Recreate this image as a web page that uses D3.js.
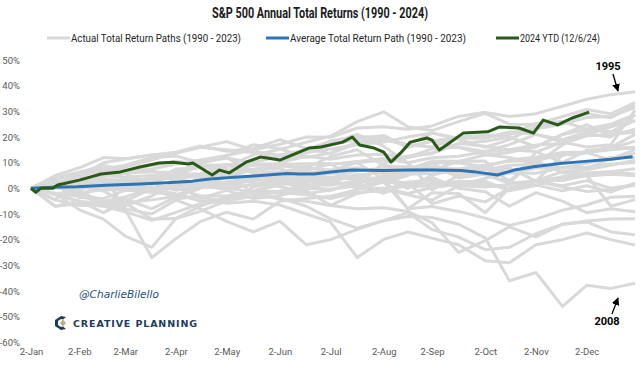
<!DOCTYPE html>
<html><head><meta charset="utf-8">
<script src="https://cdn.jsdelivr.net/npm/d3@7"></script>
<style>
html,body{margin:0;padding:0;background:#fff;}
svg{display:block;}
</style></head>
<body><svg id="c" width="640" height="366"></svg>
<script>
// ---- data (cumulative YTD total return, %) ----
const days = [0,10,20,30,39,50,60,70,81,92,103,114,124,135,146,156,166,177,188,198,209,220,230,240,250];
const y1990 = [0,-4.5,-6.7,-6.5,-5.6,-4.5,-3.2,-3.5,-5.7,0.5,3.3,4.5,2.7,5.5,2.5,-8,-7.1,-9,-11.6,-14.5,-12.0,-8.5,-6.5,-3.5,-3.1];
const y1991 = [0,-4.5,4.4,10,11.4,13,14.1,16.5,14.4,15.5,19.0,15.5,13.5,17.5,18.8,17,21.5,19.5,19.5,22,21.1,18,16.1,17,30.5];
const y1992 = [0,0.5,-1.9,-0.5,-0.7,-1.5,-2.6,0.5,0.3,1.5,0.7,-2,-0.7,2.5,3.3,0.5,1.1,2.8,2.2,-0.5,2.6,4.5,5.9,6.5,7.6];
const y1993 = [0,0.3,0.8,-1,1.9,3.5,4.0,1.5,1.6,3,4.1,4.2,4.4,3.5,4.1,6.5,7.9,7.5,7.1,9,9.3,8,8.2,9.5,10.1];
const y1994 = [0,2.5,3.4,2,0.4,0.5,-4.2,-3,-3.0,-1,-1.6,-2.5,-4.0,-1.5,-0.9,2.5,3.0,1,0.5,1.5,2.7,0.5,-1.2,-0.5,1.3];
const y1995 = [0,1.5,2.6,5,6.4,7.5,9.5,11,12.8,15,17.2,20,19.9,23.5,24.0,23,24.3,28,29.6,28,29.1,32,34.7,36.5,37.6];
const y1996 = [0,0.5,3.4,5,4.3,5,5.2,5,6.7,9,9.3,9.5,9.7,2,4.8,6,7.0,10.5,13.0,14,16.1,21,24.8,20.5,23.0];
const y1997 = [0,4,6.2,9,6.9,7,2.5,1,8.5,13,15.1,18,20.3,26,29.8,24,22.5,26,29.2,25,24.9,28,30.7,29,33.4];
const y1998 = [0,0,1.1,6,8.3,11,13.9,16,15.0,14,13.0,15,17.6,21,16.3,10,-0.6,5,5.6,2,14.1,18,21.1,20,28.6];
const y1999 = [0,2,4.2,1,1.0,3,5.0,9,9.1,6,6.5,8,12.4,15,8.9,8,8.3,6,5.3,2,12.0,14,14.2,16,21.0];
const y2000 = [0,-2,-5.0,-6,-6.8,-3,2.3,-4,-0.8,-4,-2.8,0,-0.4,1,-1.9,1.5,4.3,0,-1.3,-7,-1.7,-5,-9.5,-8,-9.1];
const y2001 = [0,2,3.6,-1,-5.8,-12,-11.8,-9,-4.9,-1.5,-4.3,-5,-6.7,-8,-7.6,-9,-13.4,-25,-20.4,-15,-18.9,-14,-12.7,-12,-11.9];
const y2002 = [0,-2,-1.5,-5,-3.4,0,0.3,-3,-5.8,-5,-6.5,-10,-13.2,-27,-19.9,-17,-19.4,-22,-28.2,-29,-22.0,-20,-17.4,-20,-22.1];
const y2003 = [0,1.5,-2.6,-6,-4.2,-8,-3.3,0,4.6,7,10.0,12.5,11.3,13,13.3,12,15.5,16,14.4,17,21.0,19,22.0,24,28.7];
const y2004 = [0,2.5,1.8,3.5,3.1,-1,1.7,1.5,0.1,-1.5,1.5,2.5,3.4,0,0.0,-2,0.3,1.5,1.4,0,3.0,6.5,7.2,9,10.9];
const y2005 = [0,-2,-2.4,0.5,-0.5,0,-2.2,-5,-4.0,-1.5,-1.0,1,-0.8,2.5,2.8,1.5,1.9,2.5,2.8,-1,1.1,4,4.8,5.5,4.9];
const y2006 = [0,2.5,2.6,2.5,2.8,4,4.2,4.5,5.6,2,2.6,-0.5,2.7,0.5,3.3,5.5,5.8,7,8.5,11,12.1,13,14,15,15.8];
const y2007 = [0,1.5,1.5,3,-0.6,-1.5,0.6,4,5.1,7.5,8.7,8,7.0,10,3.6,0,5.2,7.5,9.1,10.5,10.8,6,6.0,6.5,5.5];
const y2008 = [0,-7,-6.0,-7,-9.1,-12.5,-9.4,-6,-5.0,-3,-3.8,-7,-11.9,-15.5,-12.6,-11,-11.4,-14,-19.3,-36,-32.8,-46,-37.8,-39,-37.0];
const y2009 = [0,-2,-8.4,-12,-18.6,-23,-11.7,-7,-3.3,-1,2.1,3,2.3,1,9.9,12,13.9,17.5,18.3,20,16.2,21,23.0,22,26.5];
const y2010 = [0,1.5,-3.6,-4,-0.8,3,5.4,8.5,7.1,-2.5,-1.5,-1,-6.6,-2,-0.1,-2.5,-4.6,1,3.9,6,7.8,8,7.8,11.5,15.1];
const y2011 = [0,3,2.4,6.5,5.7,1.5,5.9,5.5,9.1,7,7.8,4,6.0,4,3.9,-8,-1.7,-2,-9.5,0,1.3,-1,1.0,-1.5,2.1];
const y2012 = [0,4,4.5,7.5,9.0,12,12.6,10,12.0,6,5.2,7,9.5,10,11.0,12.5,13.5,17.5,16.4,15,14.3,10,14.8,15.5,16.0];
const y2013 = [0,4,5.2,7,6.6,9,10.6,9.5,12.7,17,15.4,12,13.8,18,19.6,17,16.1,20,19.8,21,25.3,26,29.1,27.5,32.4];
const y2014 = [0,2,-3.5,1.5,0.7,-1,1.8,0.5,2.6,4,5.0,6,7.1,8,5.7,6,9.9,10,8.3,3,10.9,13,13.9,11,13.7];
const y2015 = [0,-2,-3.0,1.5,2.4,0,1.0,2.5,1.9,3.5,3.2,1.5,1.2,3,3.4,2,-6,-3,-5.3,0,2.7,1,3.0,0,1.4];
const y2016 = [0,-7,-5.0,-9.5,-5.1,0,1.3,3,1.7,1,3.6,0.5,3.8,7,7.7,8.5,7.8,5,7.8,6,5.9,8,9.8,12,12.0];
const y2017 = [0,1.5,1.9,5,5.9,6.5,6.1,5,7.2,7,9.3,9.5,9.3,10.5,11.6,10,11.9,12.5,14.2,15,16.9,17.5,20.5,21,21.8];
const y2018 = [0,4,5.7,-1,1.8,2,-0.8,1,-0.4,1.5,1.8,4,2.6,5,6.5,7.5,10.6,10.5,10.6,2,3.0,3,5.1,-7,-4.4];
const y2019 = [0,5,8.0,12,11.5,13,13.6,16,18.2,15,10.7,15,18.5,20,20.2,16,18.3,20,20.6,21,23.2,25,27.6,28,31.5];
const y2020 = [0,2,-0.2,5,-8.3,-27,-19.6,-13,-9.3,-12,-5.0,-4,-3.1,-0.5,2.4,5,9.7,4,5.6,8,2.8,13,14.0,15.5,18.4];
const y2021 = [0,1.5,-1.0,3.5,1.7,4,6.2,10,11.8,10,12.6,14,15.3,17,18.0,20,21.6,19,16.0,19,24.0,26,23.1,25,28.7];
const y2022 = [0,-2.5,-5.2,-7,-8.0,-10,-4.6,-8,-12.9,-17,-12.8,-22,-20.0,-16,-12.6,-9.5,-16.1,-19,-23.9,-23,-17.7,-14,-13.1,-17,-18.1];
const y2023 = [0,4,6.3,8,3.7,3,7.5,8,9.2,9.5,9.6,14,16.9,19,20.6,16,18.7,16,13.1,12,9.5,17,20.8,24,26.3];

const avgDays = [0,9,19,31,45,56,67,73,84,92,106,111,117,125,133,146,157,166,178,183,193,200,208,219,228,240,249];
const avgPath = [0,0.4,0.6,1.2,1.7,2.2,2.8,3.5,4.3,4.8,5.8,5.6,5.6,6.5,7.1,6.9,7.1,7.1,6.9,6.5,5.2,7.1,8.4,9.7,10.4,11.3,12.3];

const ytdDays = [0,2,4,9,11,20,29,37,45,53,59,65,67,75,78,82,89,95,103,106,111,115,120,129,133,136,142,146,149,153,157,164,166,169,172,179,189,194,202,208,212,218,224,231];
const ytdPath = [0,-1.6,0,0,1.3,3.2,5.6,6.4,8.3,9.9,10.2,9.5,9.9,5.2,7.1,6.0,10.2,12.2,11.0,12.2,14.1,15.7,16.1,18.0,20.0,16.9,15.7,14.1,10.2,13.8,18.0,19.6,18.8,14.9,16.9,21.6,22.0,23.9,23.5,21.5,26.6,24.7,27.4,29.7];

const yTicks = [-60,-50,-40,-30,-20,-10,0,10,20,30,40,50];
const monthDays = [0,20,39,60,81,103,124,146,166,188,209,230];
const monthLabels = ["2-Jan","2-Feb","2-Mar","2-Apr","2-May","2-Jun","2-Jul","2-Aug","2-Sep","2-Oct","2-Nov","2-Dec"];
const legendLabels = ["Actual Total Return Paths (1990 - 2023)","Average Total Return Path (1990 - 2023)","2024 YTD (12/6/24)"];

const grayPaths = [y1990,y1991,y1992,y1993,y1994,y1995,y1996,y1997,y1998,y1999,y2000,y2001,y2002,y2003,y2004,y2005,y2006,y2007,y2008,y2009,y2010,y2011,y2012,y2013,y2014,y2015,y2016,y2017,y2018,y2019,y2020,y2021,y2022,y2023];

// ---- drawing ----
const FONT = "'Liberation Sans Narrow','Arial Narrow','Roboto',sans-serif";
const svg = d3.select("#c");
const x = d3.scaleLinear().domain([0,250]).range([31,635]);
const y = d3.scaleLinear().domain([-60,50]).range([342.3,60]);
const line = (ds) => d3.line().x((d,i)=>x(ds[i])).y(d=>y(d));

const COL_GRAY="#d9d9d9", COL_BLUE="#2e75b6", COL_GREEN="#2a5a1a";

// title
svg.append("text").attr("x",320).attr("y",18).attr("text-anchor","middle")
  .attr("font-family",FONT).attr("font-weight","bold").attr("font-size",15.5).attr("fill","#1a1a1a")
  .attr("textLength",216).attr("lengthAdjust","spacingAndGlyphs")
  .text("S&P 500 Annual Total Returns (1990 - 2024)");

// legend
const legX = [47,266,496];
const legW = [170,176,80];
const legCols = [COL_GRAY,COL_BLUE,COL_GREEN];
legendLabels.forEach((t,i)=>{
  const g = svg.append("g");
  g.append("line").attr("x1",legX[i]).attr("x2",legX[i]+23).attr("y1",38).attr("y2",38)
   .attr("stroke",legCols[i]).attr("stroke-width",3);
  g.append("text").attr("x",legX[i]+24).attr("y",41.5).attr("font-family",FONT)
   .attr("font-size",10.5).attr("fill","#262626")
   .attr("textLength",legW[i]).attr("lengthAdjust","spacingAndGlyphs").text(t);
});

// axes
const yAxis = d3.axisLeft(y).tickValues(yTicks).tickFormat(d=>d+"%").tickSize(0).tickPadding(2);
const ya = svg.append("g").attr("transform","translate(22,0)").call(yAxis);
ya.select(".domain").remove();
ya.selectAll("text").attr("font-family",FONT).attr("font-size",9.5).attr("fill","#595959");

const xAxis = d3.axisBottom(x).tickValues(monthDays).tickFormat((d,i)=>monthLabels[i]).tickSize(0).tickPadding(0);
const xa = svg.append("g").attr("transform","translate(0,348)").call(xAxis);
xa.select(".domain").remove();
xa.selectAll("text").attr("font-family",FONT).attr("font-size",9.5).attr("fill","#595959");

// lines
svg.append("g").selectAll("path").data(grayPaths).join("path")
  .attr("d",d=>line(days)(d)).attr("fill","none").attr("stroke",COL_GRAY)
  .attr("stroke-width",3).attr("stroke-linejoin","round");
svg.append("path").attr("d",line(avgDays)(avgPath)).attr("fill","none")
  .attr("stroke",COL_BLUE).attr("stroke-width",3).attr("stroke-linejoin","round");
svg.append("path").attr("d",line(ytdDays)(ytdPath)).attr("fill","none")
  .attr("stroke",COL_GREEN).attr("stroke-width",3).attr("stroke-linejoin","round");

// annotations
const defs = svg.append("defs");
defs.append("marker").attr("id","ah").attr("viewBox","0 0 10 10").attr("refX",9).attr("refY",5)
  .attr("markerWidth",6).attr("markerHeight",6).attr("orient","auto")
  .append("path").attr("d","M0,0 L10,5 L0,10 z").attr("fill","#000");
svg.append("text").attr("x",608).attr("y",70).attr("text-anchor","middle").attr("font-family",FONT)
  .attr("font-weight","bold").attr("font-size",11).attr("fill","#000").text("1995");
svg.append("line").attr("x1",613).attr("y1",74).attr("x2",618).attr("y2",91)
  .attr("stroke","#000").attr("stroke-width",1.3).attr("marker-end","url(#ah)");
svg.append("text").attr("x",607).attr("y",325).attr("text-anchor","middle").attr("font-family",FONT)
  .attr("font-weight","bold").attr("font-size",11).attr("fill","#000").text("2008");
svg.append("line").attr("x1",612).attr("y1",314).attr("x2",618).attr("y2",298)
  .attr("stroke","#000").attr("stroke-width",1.3).attr("marker-end","url(#ah)");

// watermark
svg.append("text").attr("x",79).attr("y",298).attr("font-family","'DejaVu Sans',sans-serif")
  .attr("font-style","italic").attr("font-size",11).attr("fill","#1f4e79")
  .attr("textLength",80).attr("lengthAdjust","spacingAndGlyphs").text("@CharlieBilello");
const logo = svg.append("g").attr("transform","translate(61,323)");
logo.append("path").attr("d","M5,-6 L0,-7 L-6,-3 L-6,3 L0,7 L5,6 L2,3.5 L0,4 L-3,2 L-3,-2 L0,-4 L2,-3.5 Z").attr("fill","#1d3c5a");
logo.append("path").attr("d","M2,-3.5 L5,0 L2,3.5 L-1,0 Z").attr("fill","#c8a97e");
svg.append("text").attr("x",73).attr("y",327).attr("font-family","'DejaVu Sans',sans-serif")
  .attr("font-weight","bold").attr("font-size",9.5).attr("fill","#1d3c5a")
  .attr("textLength",124).attr("lengthAdjust","spacing")
  .text("CREATIVE PLANNING");
</script>
</body></html>
